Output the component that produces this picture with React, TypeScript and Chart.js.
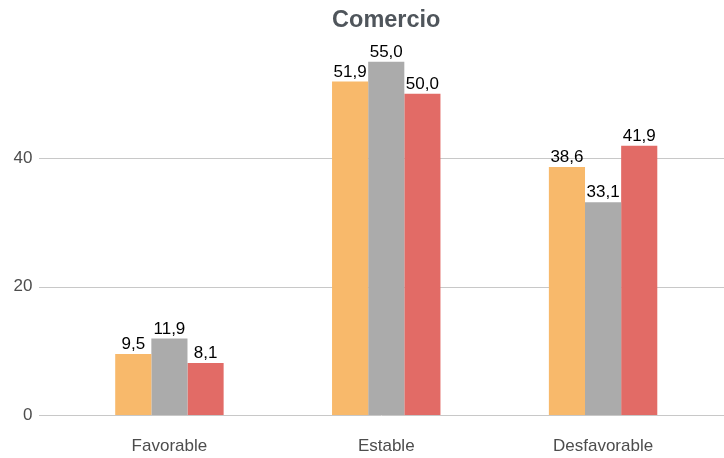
import React, { useEffect, useRef } from "react";
import { Chart, registerables } from "chart.js";

Chart.register(...registerables);

const categories = ["Favorable", "Estable", "Desfavorable"];
const seriesA = [9.5, 51.9, 38.6];
const seriesB = [11.9, 55.0, 33.1];
const seriesC = [8.1, 50.0, 41.9];
const seriesColors = ["#F8B96B", "#ABABAB", "#E26B66"];
const yTicks = [0, 20, 40];
const titleText = "Comercio";

const FONT = "'Liberation Sans', Arial, sans-serif";

const fmt = (v: number) => v.toFixed(1).replace(".", ",");

const gridPlugin = {
  id: "fullGrid",
  beforeDatasetsDraw(chart: any) {
    const { ctx } = chart;
    const y = chart.scales.y;
    ctx.save();
    ctx.strokeStyle = "#C8C8C8";
    ctx.lineWidth = 1;
    yTicks.forEach((t) => {
      const py = Math.round(y.getPixelForValue(t)) + 0.5;
      ctx.beginPath();
      ctx.moveTo(39, py);
      ctx.lineTo(724, py);
      ctx.stroke();
    });
    ctx.restore();
  },
};

const labelPlugin = {
  id: "valueLabels",
  afterDatasetsDraw(chart: any) {
    const { ctx } = chart;
    ctx.save();
    ctx.fillStyle = "#000000";
    ctx.font = `17px ${FONT}`;
    ctx.textAlign = "center";
    ctx.textBaseline = "alphabetic";
    chart.data.datasets.forEach((ds: any, i: number) => {
      const meta = chart.getDatasetMeta(i);
      meta.data.forEach((el: any, j: number) => {
        ctx.fillText(fmt(ds.data[j]), el.x, el.y - 5);
      });
    });
    ctx.restore();
  },
};

export default function App() {
  const ref = useRef<HTMLCanvasElement | null>(null);
  useEffect(() => {
    if (!ref.current) return;
    const chart = new Chart(ref.current, {
      type: "bar",
      data: {
        labels: categories,
        datasets: [seriesA, seriesB, seriesC].map((d, i) => ({
          label: "s" + i,
          data: d,
          backgroundColor: seriesColors[i],
          borderWidth: 0,
          categoryPercentage: 0.5,
          barPercentage: 1,
        })),
      },
      options: {
        responsive: false,
        animation: false,
        layout: { padding: { left: 0, right: 12.5, top: 0, bottom: 0 } },
        plugins: {
          legend: { display: false },
          tooltip: { enabled: false },
          title: {
            display: true,
            text: titleText,
            fullSize: false,
            color: "#4F555B",
            font: { family: FONT, size: 23.5, weight: "bold" },
            padding: { top: 6.5, bottom: 9.3 },
          },
        },
        scales: {
          x: {
            grid: { display: false, drawTicks: false },
            border: { display: false },
            ticks: {
              color: "#4D4D4D",
              font: { family: FONT, size: 17 },
              padding: 21.5,
            },
            afterFit: (s: any) => {
              s.height = 43;
            },
          },
          y: {
            min: 0,
            max: 57.75,
            afterBuildTicks: (s: any) => {
              s.ticks = yTicks.map((v) => ({ value: v }));
            },
            grid: { display: false, drawTicks: false },
            border: { display: false },
            ticks: {
              color: "#4D4D4D",
              font: { family: FONT, size: 17 },
              padding: 28.5,
            },
            afterFit: (s: any) => {
              s.width = 61;
            },
          },
        },
      },
      plugins: [gridPlugin, labelPlugin],
    });
    return () => chart.destroy();
  }, []);
  return (
    <div style={{ position: "fixed", left: 0, top: 0, width: 724, height: 458, background: "#fff" }}>
      <canvas ref={ref} width={724} height={458} />
    </div>
  );
}
